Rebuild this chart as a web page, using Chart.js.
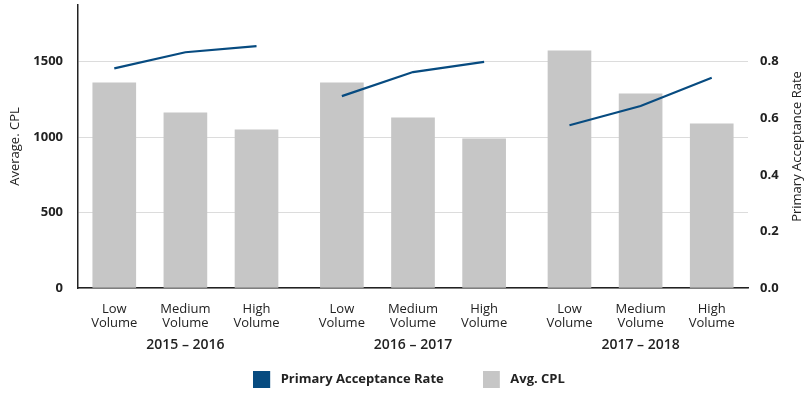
<!DOCTYPE html>
<html><head><meta charset="utf-8">
<script src="https://cdn.jsdelivr.net/npm/chart.js@4.4.0/dist/chart.umd.min.js"></script>
<style>html,body{margin:0;padding:0;background:#fff}canvas{display:block}</style>
</head><body>
<canvas id="c" width="811" height="394"></canvas>
<script>
// ---- data ----
const periods = ['2015 – 2016', '2016 – 2017', '2017 – 2018'];
const volumes = [['Low', 'Volume'], ['Medium', 'Volume'], ['High', 'Volume']];
const avgCPL = [1360, 1161, 1048, 1360, 1128, 989, 1572, 1286, 1088];
const acceptanceRate = [0.776, 0.833, 0.855, 0.678, 0.763, 0.799, 0.575, 0.643, 0.743];
const cplTicks = [0, 500, 1000, 1500];
const rateTicks = [0, 0.2, 0.4, 0.6, 0.8];
const seriesNames = ['Primary Acceptance Rate', 'Avg. CPL'];

// ---- styling / layout ----
const BLUE = '#074b80', GRAY = '#c6c6c6', INK = '#222';
const FONT = "'Open Sans', Lato, sans-serif";
const GAP = 0.2;
const nV = volumes.length;
const xPos = (g, i) => g * (nV + GAP) + i;
const catPositions = [], groupPositions = [];
periods.forEach((p, g) => { volumes.forEach((v, i) => catPositions.push(xPos(g, i))); groupPositions.push(xPos(g, (nV - 1) / 2)); });
const xMin = -0.51, xMax = xPos(periods.length - 1, nV - 1) + 0.51;

const barData = avgCPL.map((v, k) => ({x: catPositions[k], y: v}));
const lineData = [];
acceptanceRate.forEach((v, k) => {
  lineData.push({x: catPositions[k], y: v});
  if (k % nV === nV - 1 && k < acceptanceRate.length - 1) lineData.push({x: catPositions[k] + 0.5 + GAP / 2, y: null});
});

function swatch(color) {
  const c = document.createElement('canvas');
  c.width = 21; c.height = 17;
  const g = c.getContext('2d');
  g.fillStyle = color; g.fillRect(0, 0, 17, 17);
  return c;
}
const swatchColors = [BLUE, GRAY];

const rightTitle = {
  id: 'rightTitle',
  afterDraw(chart) {
    const a = chart.chartArea, ctx = chart.ctx, s = chart.scales.y1;
    ctx.save();
    ctx.translate(s.right - 14, (a.top + a.bottom) / 2);
    ctx.rotate(-Math.PI / 2);
    ctx.font = "13px " + FONT;
    ctx.fillStyle = INK;
    ctx.textAlign = 'center';
    ctx.textBaseline = 'middle';
    ctx.fillText(seriesNames[0], 0, 0);
    ctx.restore();
  }
};
// place the legend row lower than its reserved strip
const legendPlace = {
  id: 'legendPlace',
  afterLayout(chart) {
    const l = chart.legend;
    if (!l) return;
    l.top = 334; l.bottom = 394; l.height = 60;
  }
};
const noPad = s => { s.paddingTop = 0; s.paddingBottom = 0; };

new Chart(document.getElementById('c'), {
  data: {
    datasets: [
      {type: 'line', label: seriesNames[0], data: lineData, yAxisID: 'y1', xAxisID: 'x',
       borderColor: BLUE, backgroundColor: BLUE, borderWidth: 2.2, pointRadius: 0, tension: 0, spanGaps: false, order: 0},
      {type: 'bar', label: seriesNames[1], data: barData, yAxisID: 'y', xAxisID: 'x',
       backgroundColor: GRAY, borderWidth: 0, barThickness: 43, order: 1}
    ]
  },
  options: {
    responsive: false, animation: false, devicePixelRatio: 1,
    layout: {padding: {top: 5, left: 7, right: 0, bottom: 0}},
    plugins: {
      tooltip: {enabled: false},
      legend: {
        position: 'bottom', maxHeight: 30,
        labels: {
          usePointStyle: true, pointStyleWidth: 21, padding: 39, color: INK,
          font: {family: FONT, size: 13, weight: 'bold'},
          generateLabels: (chart) => chart.data.datasets.map((ds, i) => ({
            text: ds.label, fillStyle: swatchColors[i], strokeStyle: swatchColors[i], lineWidth: 0,
            pointStyle: swatch(swatchColors[i]), datasetIndex: i, hidden: false, fontColor: INK
          }))
        }
      }
    },
    scales: {
      x: {
        type: 'linear', position: 'bottom', weight: 0, min: xMin, max: xMax, offset: false,
        grid: {display: false, drawTicks: false, offset: false},
        border: {display: true, color: INK, width: 1.5},
        afterBuildTicks: s => { s.ticks = catPositions.map(v => ({value: v})); },
        afterFit: s => { s.height = 42; },
        ticks: {autoSkip: false, maxRotation: 0, padding: 14, color: INK,
          font: {family: FONT, size: 13, lineHeight: 1.08},
          callback: (v, i) => volumes[i % nV]}
      },
      x2: {
        type: 'linear', position: 'bottom', weight: 1, min: xMin, max: xMax, offset: false,
        grid: {display: false, drawTicks: false, offset: false},
        border: {display: false},
        afterBuildTicks: s => { s.ticks = groupPositions.map(v => ({value: v})); },
        afterFit: s => { s.height = 34; },
        ticks: {autoSkip: false, maxRotation: 0, padding: 7, color: INK,
          font: {family: FONT, size: 14, weight: '600'},
          callback: (v, i) => periods[i]}
      },
      y: {
        position: 'left', min: 0, max: 1875,
        afterBuildTicks: s => { s.ticks = cplTicks.map(v => ({value: v})); },
        afterFit: s => { s.width = 71; noPad(s); },
        grid: {color: '#dcdcdc', lineWidth: 1, drawTicks: false},
        border: {display: true, color: INK, width: 1.5},
        ticks: {padding: 15, color: INK, font: {family: FONT, size: 13, weight: 'bold'},
          callback: v => String(v)},
        title: {display: true, text: 'Average. CPL', color: INK, padding: 0, font: {family: FONT, size: 13}}
      },
      y1: {
        position: 'right', min: 0, max: 1,
        afterBuildTicks: s => { s.ticks = rateTicks.map(v => ({value: v})); },
        afterFit: s => { s.width = 63; noPad(s); },
        grid: {display: false, drawTicks: false},
        border: {display: false},
        ticks: {padding: 12, color: INK, font: {family: FONT, size: 13, weight: 'bold'},
          callback: v => Number(v).toFixed(1)}
      }
    }
  },
  plugins: [rightTitle, legendPlace]
});
</script>
</body></html>
